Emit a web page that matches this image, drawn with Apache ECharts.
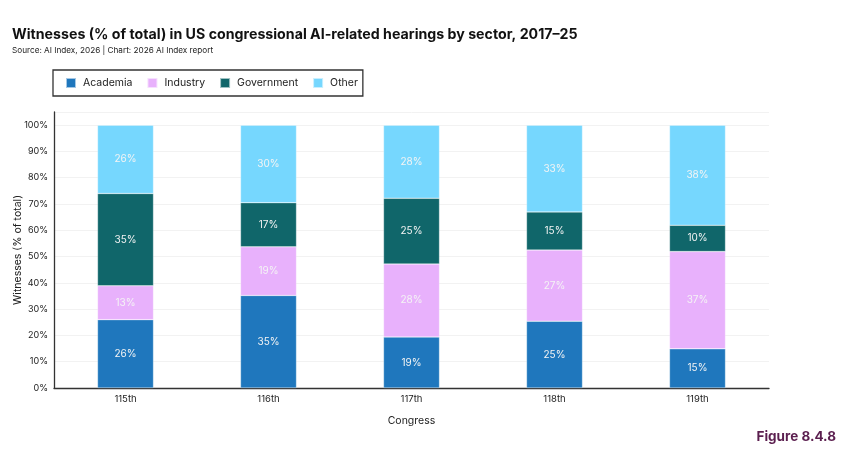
<!DOCTYPE html>
<html><head><meta charset="utf-8">
<script src="https://cdn.jsdelivr.net/npm/echarts@6/dist/echarts.min.js"></script>
<style>html,body{margin:0;padding:0;background:#fff}#c{width:850px;height:454px}</style>
</head><body><div id="c"></div>
<script>
const categories = ['115th','116th','117th','118th','119th'];
const academia = [26.0, 35.2, 19.4, 25.4, 14.9];
const industry = [12.9, 18.5, 27.8, 27.1, 37.0];
const government = [35.1, 16.8, 25.0, 14.5, 10.0];
const other = [26.0, 29.5, 27.8, 33.0, 38.1];
const yTicks = [0,10,20,30,40,50,60,70,80,90,100];

const chart = echarts.init(document.getElementById('c'));
const font = 'Inter, "Noto Sans", sans-serif';
function mk(name, data, color){
  return {name, type:'bar', stack:'s', data, barWidth:56,
    itemStyle:{color, borderColor:'rgba(255,255,255,0.6)', borderWidth:0.5},
    label:{show:true, position:'inside', color:'#f4f4f4', fontSize:10, fontFamily:font,
      formatter:p=>Math.round(p.value)+'%'}};
}
chart.setOption({
  animation:false,
  title:[{text:'Witnesses (% of total) in US congressional AI-related hearings by sector, 2017–25',
    left:7, top:23, textStyle:{fontFamily:font, fontSize:14.2, fontWeight:'bold', color:'#111'}},
    {text:'Source: AI Index, 2026 | Chart: 2026 AI Index report', left:7, top:42,
    textStyle:{fontFamily:font, fontSize:8.2, fontWeight:'normal', color:'#222'}},
    {text:'Figure 8.4.8', right:9, bottom:5, textStyle:{fontFamily:font, fontSize:13.5, fontWeight:'bold', color:'#5b1f4f'}}],
  legend:{left:53, top:70, padding:[7,5,7,12], itemGap:14, itemWidth:10, itemHeight:10,
    borderColor:'#333', borderWidth:1.3, icon:'rect',
    textStyle:{fontFamily:font, fontSize:10.5, color:'#222', padding:[0,0,0,2]},
    data:['Academia','Industry','Government','Other']},
  grid:{left:54, right:81, top:112, bottom:66, outerBoundsMode:'none', containLabel:false},
  xAxis:{type:'category', data:categories, name:'Congress', nameLocation:'middle', nameGap:27,
    nameTextStyle:{fontFamily:font, fontSize:10.5, color:'#222'},
    axisLine:{lineStyle:{color:'#333', width:1.3}}, axisTick:{show:false},
    axisLabel:{fontFamily:font, fontSize:9.5, color:'#222', margin:6}},
  yAxis:{type:'value', min:0, max:105, interval:10, name:'Witnesses (% of total)', nameLocation:'middle', nameGap:31,
    nameMoveOverlap:false,
    nameTextStyle:{fontFamily:font, fontSize:10.5, color:'#222'},
    axisLine:{show:true, lineStyle:{color:'#333', width:1.3}}, axisTick:{show:false},
    splitLine:{lineStyle:{color:'#f2f2f2'}},
    axisLabel:{fontFamily:font, fontSize:9, color:'#222', showMaxLabel:false, margin:6,
      formatter:v=>yTicks.includes(v)?v+'%':''}},
  series:[mk('Academia',academia,'#1f77bd'), mk('Industry',industry,'#e8b1fc'),
    mk('Government',government,'#10666a'), mk('Other',other,'#76d7fe')]
});
</script></body></html>
